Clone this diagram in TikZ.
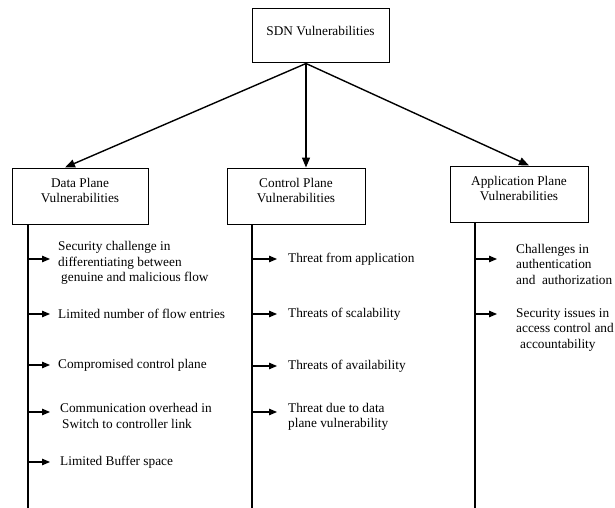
\documentclass[tikz,border=0pt]{standalone}
\usepackage{fontspec}
\setmainfont{Liberation Serif}
\usetikzlibrary{arrows.meta}
\newcommand{\lowstrut}{\rule[-11pt]{0pt}{0pt}}
\begin{document}
\begin{tikzpicture}[x=1pt,y=-1pt,
  box/.style={draw,line width=1pt,minimum height=55pt,align=center,inner sep=0pt,font=\fontsize{13.3}{15.5}\selectfont},
  item/.style={anchor=west,align=left,inner sep=0pt,font=\fontsize{13.3}{15.5}\selectfont},
  main/.style={line width=1.4pt,-{Triangle[length=10pt,width=8pt]}},
  branch/.style={line width=1.1pt,-{Triangle[length=8pt,width=6.5pt]}},
  stem/.style={line width=2pt}]
\useasboundingbox (0,0) rectangle (615,508);
% boxes
\node[box,minimum width=137pt,minimum height=54pt] (sdn) at (320.5,36) {SDN Vulnerabilities\lowstrut};
\node[box,minimum width=136pt,minimum height=56pt] (dp) at (80,196) {Data Plane\\Vulnerabilities\lowstrut};
\node[box,minimum width=138pt,minimum height=56pt] (cp) at (296,196) {Control Plane\\Vulnerabilities\lowstrut};
\node[box,minimum width=138pt,minimum height=56pt] (ap) at (519,194) {Application Plane\\Vulnerabilities\lowstrut};
% main arrows
\coordinate (src) at ([xshift=-14.5pt]sdn.south);
\draw[main] (src) -- ([xshift=-15pt]dp.north);
\draw[main] (src) -- ([xshift=10pt]cp.north);
\draw[main] (src) -- ([xshift=10pt]ap.north);
% stems
\coordinate (dl) at ([xshift=16pt]dp.south west);
\coordinate (cl) at ([xshift=25pt]cp.south west);
\coordinate (al) at ([xshift=25pt]ap.south west);
\coordinate (dle) at (dl |- 0,508);
\coordinate (cle) at (cl |- 0,508);
\coordinate (ale) at (al |- 0,508);
\draw[stem] (dl) -- (dle);
\draw[stem] (cl) -- (cle);
\draw[stem] (al) -- (ale);
% data plane items
\node[item] (d1) at (58,263) {Security challenge in\\differentiating between\\\hspace*{3pt}genuine and malicious flow};
\node[item] (d2) at (58,314) {Limited number of flow entries};
\node[item] (d3) at (58,365) {Compromised control plane};
\node[item] (d4) at (60,416) {Communication overhead in\\\hspace*{2pt}Switch to controller link};
\node[item] (d5) at (60,462) {Limited Buffer space};
\draw[branch] ([yshift=4pt]d1.west -| dl) -- ([xshift=-8pt,yshift=4pt]d1.west);
\draw[branch] (d2.west -| dl) -- ([xshift=-8pt]d2.west);
\draw[branch] (d3.west -| dl) -- ([xshift=-8pt]d3.west);
\draw[branch] ([yshift=4pt]d4.west -| dl) -- ([xshift=-10pt,yshift=4pt]d4.west);
\draw[branch] (d5.west -| dl) -- ([xshift=-10pt]d5.west);
% control plane items
\node[item] (c1) at (288,259) {Threat from application};
\node[item] (c2) at (288,314) {Threats of scalability};
\node[item] (c3) at (288,366) {Threats of availability};
\node[item] (c4) at (288,417) {Threat due to data\\plane vulnerability};
\draw[branch] (c1.west -| cl) -- ([xshift=-11pt]c1.west);
\draw[branch] (c2.west -| cl) -- ([xshift=-11pt]c2.west);
\draw[branch] (c3.west -| cl) -- ([xshift=-11pt]c3.west);
\draw[branch] ([yshift=5pt]c4.west -| cl) -- ([xshift=-11pt,yshift=5pt]c4.west);
% application plane items
\node[item] (a1) at (516,264) {Challenges in\\authentication\\and \ authorization};
\node[item] (a2) at (516,330) {Security issues in\\access control and\\\hspace*{4pt}accountability};
\draw[branch] ([yshift=5pt]a1.west -| al) -- ([xshift=-19pt,yshift=5pt]a1.west);
\draw[branch] ([yshift=16pt]a2.west -| al) -- ([xshift=-19pt,yshift=16pt]a2.west);
\end{tikzpicture}
\end{document}
